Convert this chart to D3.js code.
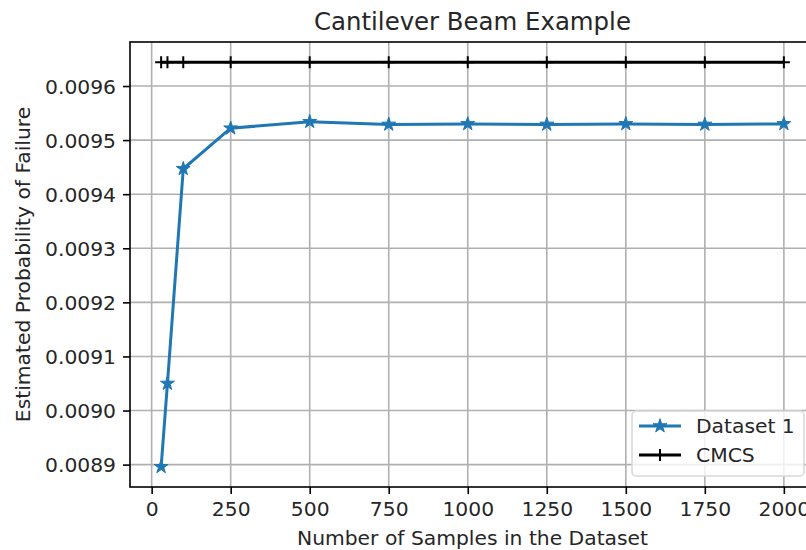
<!DOCTYPE html>
<html>
<head>
<meta charset="utf-8">
<script src="https://cdn.jsdelivr.net/npm/d3@7"></script>
<style>
  body { margin: 0; background: #fff; }
  svg text { font-family: "DejaVu Sans", sans-serif; fill: #262626; }
</style>
</head>
<body>
<div id="chart"></div>
<script>
// data
var samples = [30, 50, 100, 250, 500, 750, 1000, 1250, 1500, 1750, 2000];
var dataset1 = [0.008896, 0.009050, 0.009447, 0.009522, 0.009534, 0.009529, 0.009530, 0.009529, 0.009530, 0.009529, 0.009530];
var cmcs = [0.009644, 0.009644, 0.009644, 0.009644, 0.009644, 0.009644, 0.009644, 0.009644, 0.009644, 0.009644, 0.009644];
var xTicks = [0, 250, 500, 750, 1000, 1250, 1500, 1750, 2000];
var yTicks = [0.0089, 0.0090, 0.0091, 0.0092, 0.0093, 0.0094, 0.0095, 0.0096];
var seriesNames = ["Dataset 1", "CMCS"];

// plot box (right edge falls just outside the picture, as in the reference)
var pLeft = 130, pRight = 815, pTop = 42, pBottom = 487;

var svg = d3.select("#chart")
            .append("svg")
            .attr("width", 806)
            .attr("height", 550);

// matplotlib style 5% margins
var xMin = d3.min(samples), xMax = d3.max(samples);
var xPad = (xMax - xMin) * 0.05;
var allY = dataset1.concat(cmcs);
var yMin = d3.min(allY), yMax = d3.max(allY);
var yPad = (yMax - yMin) * 0.05;

var x = d3.scaleLinear().domain([xMin - xPad, xMax + xPad]).range([pLeft, pRight]);
var y = d3.scaleLinear().domain([yMin - yPad, yMax + yPad]).range([pBottom, pTop]);

// grid
svg.selectAll(".vgrid")
    .data(xTicks)
    .enter()
    .append("line")
        .attr("x1", function(d){ return x(d); })
        .attr("x2", function(d){ return x(d); })
        .attr("y1", pTop)
        .attr("y2", pBottom)
        .style("stroke", "#b0b0b0")
        .style("stroke-width", 1.6);

svg.selectAll(".hgrid")
    .data(yTicks)
    .enter()
    .append("line")
        .attr("x1", pLeft)
        .attr("x2", pRight)
        .attr("y1", function(d){ return y(d); })
        .attr("y2", function(d){ return y(d); })
        .style("stroke", "#b0b0b0")
        .style("stroke-width", 1.6);

// axes
var xAxis = svg.append("g")
    .attr("transform", "translate(0," + pBottom + ")")
    .call(d3.axisBottom(x).tickValues(xTicks).tickSize(7).tickPadding(7).tickSizeOuter(0)
            .tickFormat(d3.format("d")));

var yAxis = svg.append("g")
    .attr("transform", "translate(" + pLeft + ",0)")
    .call(d3.axisLeft(y).tickValues(yTicks).tickSize(7).tickPadding(7).tickSizeOuter(0)
            .tickFormat(d3.format(".4f")));

[xAxis, yAxis].forEach(function(a){
    a.select(".domain").remove();
    a.selectAll("line").style("stroke", "#000").style("stroke-width", 1.6);
    a.selectAll("text").style("font-size", "20.3px").style("fill", "#262626");
});
yAxis.selectAll("text").attr("dy", "0.36em");
xAxis.selectAll("text").attr("dy", "0.76em");

// frame
svg.append("rect")
    .attr("x", pLeft)
    .attr("y", pTop)
    .attr("width", pRight - pLeft)
    .attr("height", pBottom - pTop)
    .style("fill", "none")
    .style("stroke", "#000")
    .style("stroke-width", 1.6);

// lines
var lineGen = d3.line()
    .x(function(d, i){ return x(samples[i]); })
    .y(function(d){ return y(d); });

svg.append("path")
    .datum(cmcs)
    .attr("d", lineGen)
    .style("fill", "none")
    .style("stroke", "#000")
    .style("stroke-width", 3);

svg.selectAll(".plus")
    .data(cmcs)
    .enter()
    .append("path")
        .attr("d", "M-6,0H6M0,-6V6")
        .attr("transform", function(d, i){ return "translate(" + x(samples[i]) + "," + y(d) + ")"; })
        .style("stroke", "#000")
        .style("stroke-width", 2);

svg.append("path")
    .datum(dataset1)
    .attr("d", lineGen)
    .style("fill", "none")
    .style("stroke", "#1f77b4")
    .style("stroke-width", 3);

var star = d3.symbol().type(d3.symbolStar).size(60);

svg.selectAll(".star")
    .data(dataset1)
    .enter()
    .append("path")
        .attr("d", star)
        .attr("transform", function(d, i){ return "translate(" + x(samples[i]) + "," + y(d) + ")"; })
        .style("fill", "#1f77b4")
        .style("stroke", "#1f77b4")
        .style("stroke-width", 1);

// title and labels
svg.append("text")
    .text("Cantilever Beam Example")
    .attr("x", (pLeft + pRight) / 2)
    .attr("y", 30)
    .attr("text-anchor", "middle")
    .style("font-size", "24.4px");

svg.append("text")
    .text("Number of Samples in the Dataset")
    .attr("x", (pLeft + pRight) / 2)
    .attr("y", 545)
    .attr("text-anchor", "middle")
    .style("font-size", "20.3px");

svg.append("text")
    .text("Estimated Probability of Failure")
    .attr("transform", "translate(30," + ((pTop + pBottom) / 2) + ") rotate(-90)")
    .attr("text-anchor", "middle")
    .style("font-size", "20.3px");

// legend
var legend = svg.append("g").attr("transform", "translate(632,411)");
legend.append("rect")
    .attr("width", 172)
    .attr("height", 65)
    .attr("rx", 4)
    .style("fill", "#fff")
    .style("fill-opacity", 0.8)
    .style("stroke", "#d6d6d6")
    .style("stroke-width", 1.5);

var legendColors = ["#1f77b4", "#000"];
seriesNames.forEach(function(name, i){
    var ly = 15 + i * 29;
    legend.append("line")
        .attr("x1", 7).attr("x2", 49)
        .attr("y1", ly).attr("y2", ly)
        .style("stroke", legendColors[i])
        .style("stroke-width", 3);
    if (i == 0) {
        legend.append("path")
            .attr("d", star)
            .attr("transform", "translate(28," + ly + ")")
            .style("fill", legendColors[i])
            .style("stroke", legendColors[i]);
    } else {
        legend.append("path")
            .attr("d", "M-6,0H6M0,-6V6")
            .attr("transform", "translate(28," + ly + ")")
            .style("stroke", legendColors[i])
            .style("stroke-width", 2);
    }
    legend.append("text")
        .text(name)
        .attr("x", 64)
        .attr("y", ly)
        .attr("dy", "0.36em")
        .style("font-size", "20.3px");
});
</script>
</body>
</html>
